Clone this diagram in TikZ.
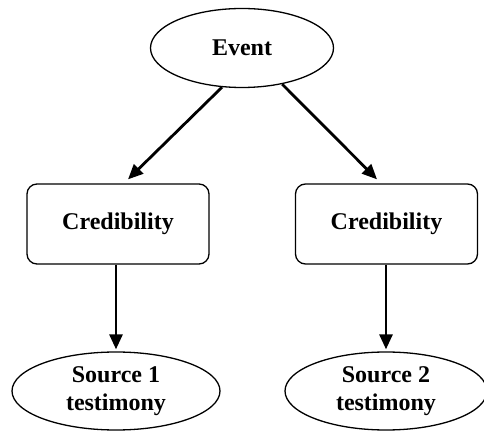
\documentclass[tikz,border=0pt]{standalone}
\usepackage{fontspec}
\setmainfont{Liberation Serif}
\usetikzlibrary{shapes.geometric,arrows.meta,calc}
\tikzset{
  lbl/.style={font=\bfseries\fontsize{24}{28}\selectfont, align=center, inner sep=0pt},
  oval/.style={lbl, ellipse, draw, line width=1.3pt},
  card/.style={lbl, rectangle, rounded corners=10pt, draw, line width=1.3pt,
               minimum width=182pt, minimum height=80pt},
  link/.style={line width=2.8pt, -{Triangle[length=15pt,width=13pt]}}
}
\begin{document}
\begin{tikzpicture}[x=1pt,y=1pt]
  \useasboundingbox (0,0) rectangle (484,431);
  % top event
  \node[oval, minimum width=183pt, minimum height=79pt] (ev) at (242,383) {Event};
  % credibility boxes
  \node[card] (cl) at (118,207) {Credibility};
  \node[card] (cr) at (386.5,207) {Credibility};
  % testimonies
  \node[oval, minimum width=208pt, minimum height=78pt] (sl) at (116,40) {Source 1\\testimony};
  \node[oval, minimum width=202pt, minimum height=78pt] (sr) at (386,40) {Source 2\\testimony};
  % connectors
  \draw[link] (ev.243) -- ($(cl.north)+(10,4)$);
  \draw[link] (ev.-42) -- ($(cr.north)+(-9.5,4)$);
  \draw[link] (cl.south -| sl.north) -- ($(sl.north)+(0,2)$);
  \draw[link] (cr.south -| sr.north) -- ($(sr.north)+(0,2)$);
\end{tikzpicture}
\end{document}
